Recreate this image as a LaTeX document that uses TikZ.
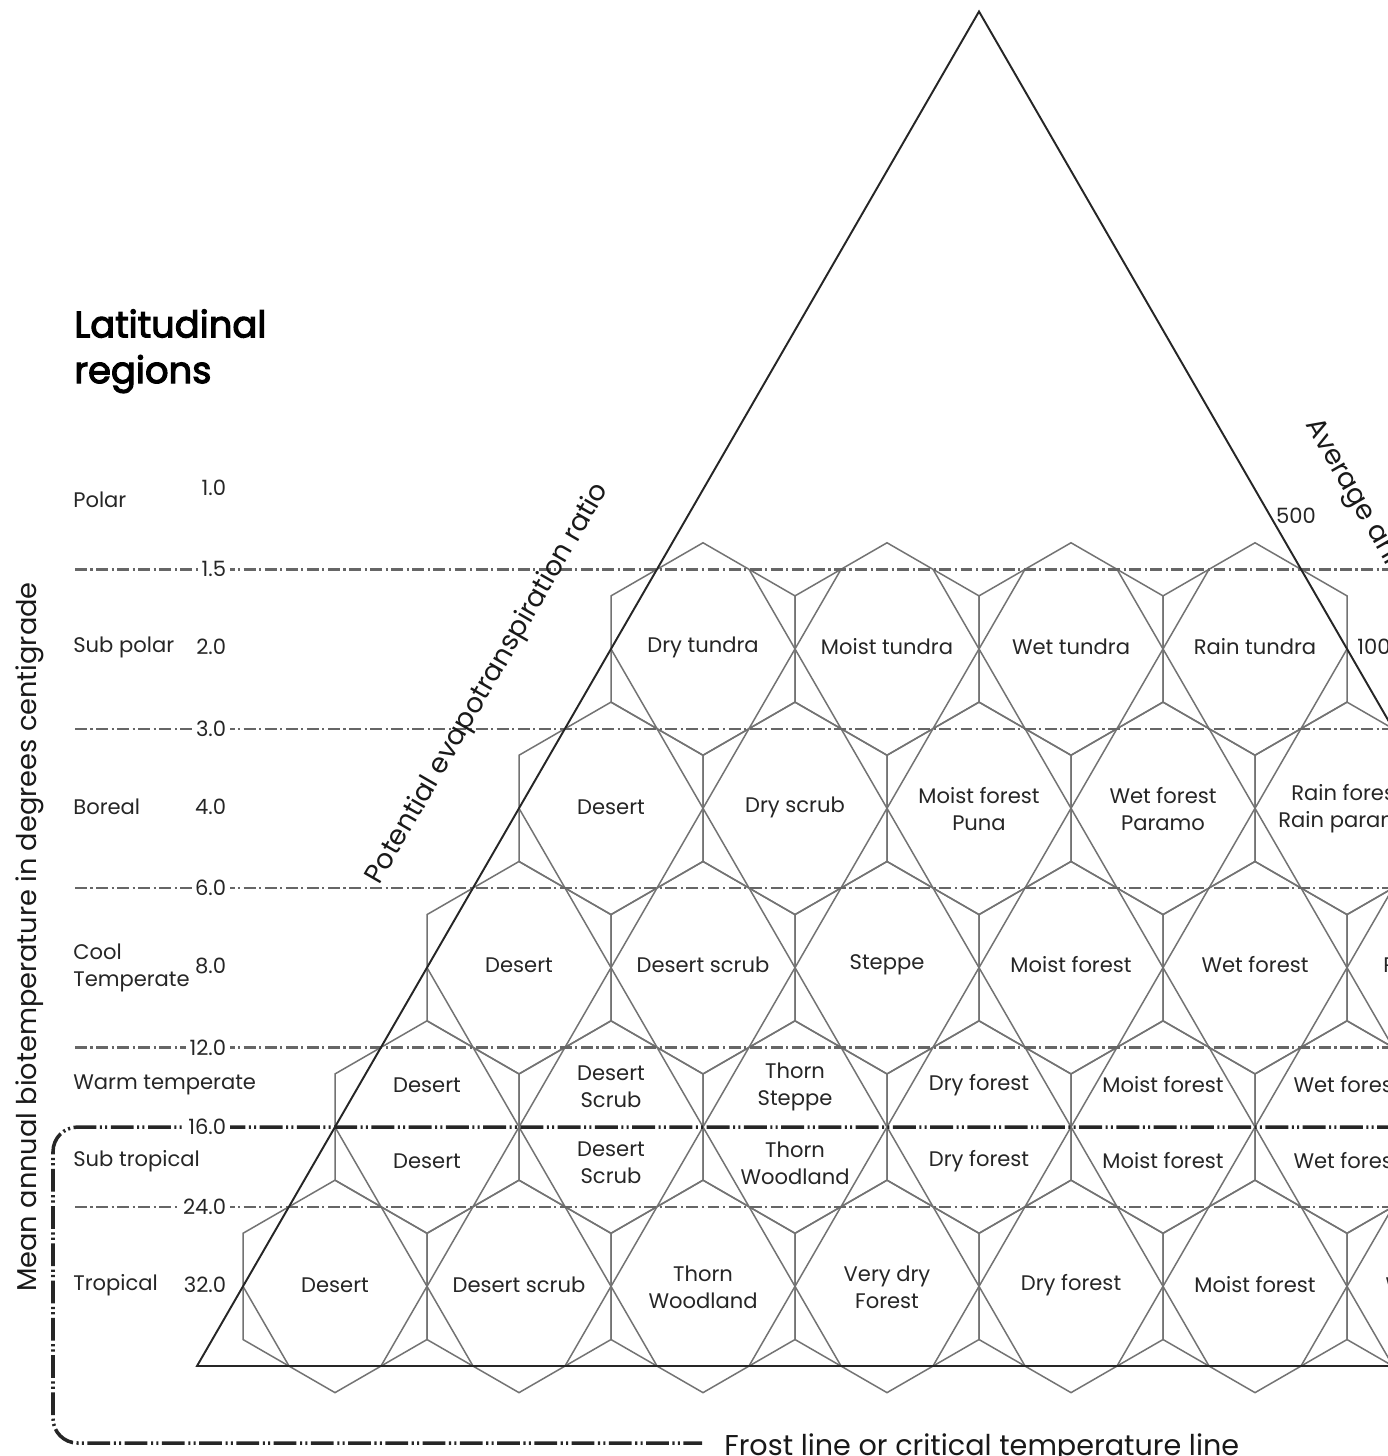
\documentclass[tikz,border=0pt]{standalone}
\usepackage{fontspec}
\setmainfont{Poppins}
\newfontfamily\titlefont[FakeBold=3]{Poppins}
\usepackage{tikz}
\usetikzlibrary{positioning,calc}
\tikzset{
  hzHex/.style={draw=black!55, line width=0.85pt, line join=miter},
  hzLat/.style={draw=black!55, line width=0.85pt},
  hzTri/.style={draw=black!85, line width=1.1pt, line join=miter},
  %% temperature lines
  hzTemp/.style={draw=black!60, line width=1.3pt,
    dash pattern=on 6.8pt off 2pt on 1.2pt off 2pt},
  hzFrost/.style={draw=black!85, line width=2pt,
    dash pattern=on 13pt off 2pt on 1.2pt off 1.8pt on 1.2pt off 2pt},
  %% labels
  hzCell/.style={font=\fontsize{12}{15.3}\selectfont, align=center, text=black!85, inner sep=0pt},
  hzRegion/.style={font=\fontsize{12}{15.3}\selectfont, align=left, anchor=west, text=black!85, inner sep=0pt},
  hzNum/.style={font=\fontsize{12}{15.3}\selectfont, anchor=east, fill=white, inner xsep=2pt, inner ysep=1pt, text=black!85},
  hzAxis/.style={font=\fontsize{15.5}{18}\selectfont, text=black!90, inner sep=0pt},
}

\begin{document}
\begin{tikzpicture}[x=0.02cm, y=-0.02cm]
\useasboundingbox (0,0) rectangle (1388,1456);
\clip (0,0) rectangle (1388,1456);
\fill[white] (0,0) rectangle (1388,1456);

%% Hexagons, five rows
\foreach \k in {1,...,5}{
  \pgfmathtruncatemacro\last{\k+2}
  \foreach \j in {0,...,\last}{
    \pgfmathsetmacro\cx{979+92*(2*\j-\k-2)}
    \pgfmathsetmacro\cy{649+159.35*(\k-1)}
    \draw[hzHex] (\cx,\cy) +(90:106.23) -- +(30:106.23) -- +(-30:106.23)
      -- +(-90:106.23) -- +(-150:106.23) -- +(150:106.23) -- cycle;
  }
}

%% Lattice lines inside the triangle
\begin{scope}
  \clip (656.9,569.4) -- (1301.1,569.4) -- (1761,1366) -- (197,1366) -- cycle;
  \foreach \m in {1,...,8}
    \draw[hzLat] ({197+184*\m},1366) -- ++(500,-866);
  \foreach \m in {0,...,7}
    \draw[hzLat] ({289+184*\m},1366) -- ++(-500,-866);
\end{scope}

%% Temperature lines
\foreach \y in {569.4, 728.7, 888, 1047.4, 1206.7}
  \draw[hzTemp] (75,\y) -- (1400,\y);

%% Triangle
\draw[hzTri] (979,11.5) -- (1761,1366) -- (197,1366) -- cycle;

%% Frost line
\draw[hzFrost, rounded corners=14pt] (1400,1127.05) -- (53,1127.05) -- (53,1443) -- (702,1443);

%% Temperature values
\node[hzNum] (t10)  at (230,488)    {1.0};
\node[hzNum] (t15)  at (230,569.4)  {1.5};
\node[hzNum] (t20)  at (230,647)    {2.0};
\node[hzNum] (t30)  at (230,728.7)  {3.0};
\node[hzNum] (t40)  at (230,807)    {4.0};
\node[hzNum] (t60)  at (230,888)    {6.0};
\node[hzNum] (t80)  at (230,966)    {8.0};
\node[hzNum] (t120) at (230,1047.4) {12.0};
\node[hzNum] (t160) at (230,1127.05){16.0};
\node[hzNum] (t240) at (230,1206.7) {24.0};
\node[hzNum] (t320) at (230,1285)   {32.0};

%% Latitudinal regions
\node[anchor=north west, align=left, inner sep=0pt,
  font=\fontsize{21}{26}\selectfont\titlefont] (title) at (74,309) {Latitudinal\\regions};
\node[hzRegion] (rPolar)    at (73,500)  {Polar};
\node[hzRegion] (rSubPolar) at (73,647)  {Sub polar};
\node[hzRegion] (rBoreal)   at (73,807)  {Boreal};
\node[hzRegion] (rCool)     at (73,968)  {Cool\\Temperate};
\node[hzRegion] (rWarm)     at (73,1085) {Warm temperate};
\node[hzRegion] (rSubTrop)  at (73,1161) {Sub tropical};
\node[hzRegion] (rTrop)     at (73,1285) {Tropical};

%% Sub polar
\node[hzCell] (cDryTundra)   at ( 703,647) {Dry tundra};
\node[hzCell] (cMoistTundra) at ( 887,647) {Moist tundra};
\node[hzCell] (cWetTundra)   at (1071,647) {Wet tundra};
\node[hzCell] (cRainTundra)  at (1255,647) {Rain tundra};
%% Boreal
\node[hzCell] (bDesert)   at ( 611,807) {Desert};
\node[hzCell] (bDryScrub) at ( 795,807) {Dry scrub};
\node[hzCell] (bMoist)    at ( 979,809) {Moist forest\\Puna};
\node[hzCell] (bWet)      at (1163,809) {Wet forest\\Paramo};
\node[hzCell] (bRain)     at (1347,809) {Rain forest\\Rain paramo};
%% Cool temperate
\node[hzCell] (kDesert) at ( 519,965) {Desert};
\node[hzCell] (kScrub)  at ( 703,965) {Desert scrub};
\node[hzCell] (kSteppe) at ( 887,965) {Steppe};
\node[hzCell] (kMoist)  at (1071,965) {Moist forest};
\node[hzCell] (kWet)    at (1255,965) {Wet forest};
\node[hzCell] (kRain)   at (1439,965) {Rain forest};
%% Warm temperate
\node[hzCell] (wDesert) at ( 427,1085) {Desert};
\node[hzCell] (wScrub)  at ( 611,1087) {Desert\\Scrub};
\node[hzCell] (wThorn)  at ( 795,1087) {Thorn\\Steppe};
\node[hzCell] (wDry)    at ( 979,1085) {Dry forest};
\node[hzCell] (wMoist)  at (1163,1085) {Moist forest};
\node[hzCell] (wWet)    at (1347,1085) {Wet forest};
%% Sub tropical
\node[hzCell] (sDesert) at ( 427,1161) {Desert};
\node[hzCell] (sScrub)  at ( 611,1163) {Desert\\Scrub};
\node[hzCell] (sThorn)  at ( 795,1163) {Thorn\\Woodland};
\node[hzCell] (sDry)    at ( 979,1161) {Dry forest};
\node[hzCell] (sMoist)  at (1163,1161) {Moist forest};
\node[hzCell] (sWet)    at (1347,1161) {Wet forest};
%% Tropical
\node[hzCell] (pDesert)  at ( 335,1285) {Desert};
\node[hzCell] (pScrub)   at ( 519,1285) {Desert scrub};
\node[hzCell] (pThorn)   at ( 703,1287) {Thorn\\Woodland};
\node[hzCell] (pVeryDry) at ( 887,1287) {Very dry\\Forest};
\node[hzCell] (pDry)     at (1071,1285) {Dry forest};
\node[hzCell] (pMoist)   at (1255,1285) {Moist forest};
\node[hzCell] (pWet)     at (1439,1285) {Wet forest};

%% Axes
\node[hzAxis, rotate=90] (axTemp) at (30,937)
  {Mean annual biotemperature in degrees centigrade};
\node[hzAxis, rotate=60] (axPet) at (488,684) {Potential evapotranspiration ratio};
\node[hzAxis, rotate=-60, anchor=base west] (axPrec) at (1305,424)
  {Average annual precipitation in millimeters};
\node[hzCell] (p500)  at (1296,516) {500};
\node[hzCell, anchor=west] (p1000) at (1357,647) {1000};
\node[hzAxis, anchor=base west, font=\fontsize{16.3}{19}\selectfont] (frostTxt) at (724,1455)
  {Frost line or critical temperature line};

\end{tikzpicture}
\end{document}
